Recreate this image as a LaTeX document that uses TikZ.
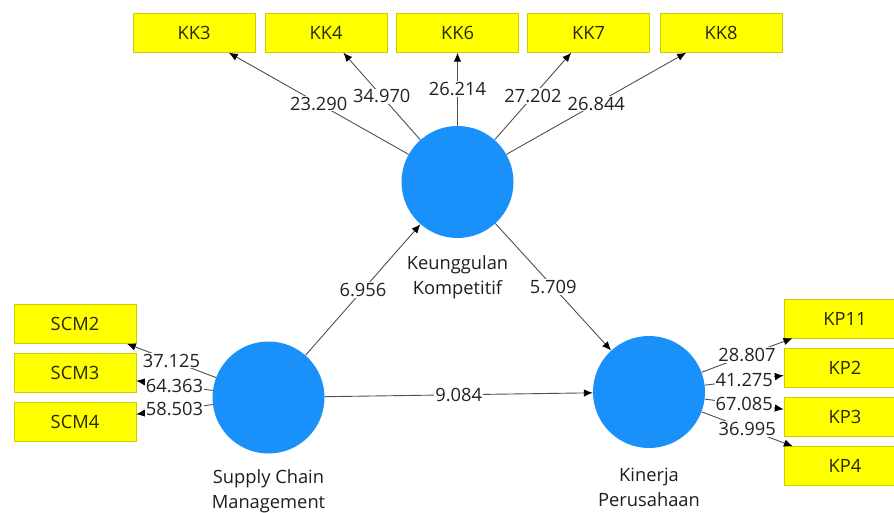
\documentclass[tikz,border=0pt]{standalone}
\usepackage{fontspec}
\setmainfont{Open Sans}
\usetikzlibrary{arrows.meta}

\begin{document}
\begin{tikzpicture}[x=1pt,y=-1pt,
  font=\fontsize{18.3}{25}\selectfont,
  latent/.style={circle, fill={rgb,255:red,25; green,144; blue,250}, minimum size=112pt, inner sep=0pt},
  indik/.style={draw={rgb,255:red,205; green,205; blue,0}, fill={rgb,255:red,255; green,255; blue,0},
    minimum width=122pt, minimum height=39pt, inner sep=0pt, text={rgb,255:red,40; green,40; blue,10}},
  panah/.style={draw={rgb,255:red,80; green,80; blue,80}, line width=0.9pt,
    -{Latex[length=9pt,width=7.5pt,color=black]}},
  nilai/.style={fill=white, inner sep=1pt, text={rgb,255:red,35; green,35; blue,35}},
  nama/.style={align=center, text={rgb,255:red,30; green,30; blue,30}}
  ]
\clip (0,0) rectangle (894,513);
\fill[white] (0,0) rectangle (894,513);
%konstruk
\node[latent] (KKomp) at (457.5,182) {};
\node[latent] (SCM) at (268.5,397.5) {};
\node[latent] (KPer) at (649,392) {};
\node[nama] (nKKomp) at (457.5,277) {Keunggulan\\Kompetitif};
\node[nama] (nSCM) at (268.5,491) {Supply Chain\\Management};
\node[nama] (nKPer) at (649,487) {Kinerja\\Perusahaan};
%indikator
\node[indik] (KK3) at (194,33) {KK3};
\node[indik] (KK4) at (326,33) {KK4};
\node[indik] (KK6) at (457.5,33) {KK6};
\node[indik] (KK7) at (588.5,33) {KK7};
\node[indik] (KK8) at (721,33) {KK8};
\node[indik] (SCM2) at (75,324) {SCM2};
\node[indik] (SCM3) at (75,373) {SCM3};
\node[indik] (SCM4) at (75,422) {SCM4};
\node[indik] (KP11) at (845,318.5) {KP11};
\node[indik] (KP2) at (845,368) {KP2};
\node[indik] (KP3) at (845,417) {KP3};
\node[indik] (KP4) at (845,466) {KP4};
%panah
\draw[panah] (KKomp) -- node[nilai] {23.290} (KK3);
\draw[panah] (KKomp) -- node[nilai] {34.970} (KK4);
\draw[panah] (KKomp) -- node[nilai] {26.214} (KK6);
\draw[panah] (KKomp) -- node[nilai] {27.202} (KK7);
\draw[panah] (KKomp) -- node[nilai] {26.844} (KK8);
\draw[panah] (SCM) -- node[nilai] {37.125} (SCM2);
\draw[panah] (SCM) -- node[nilai] {64.363} (SCM3);
\draw[panah] (SCM) -- node[nilai] {58.503} (SCM4);
\draw[panah] (KPer) -- node[nilai] {28.807} (KP11);
\draw[panah] (KPer) -- node[nilai] {41.275} (KP2);
\draw[panah] (KPer) -- node[nilai] {67.085} (KP3);
\draw[panah] (KPer) -- node[nilai] {36.995} (KP4);
\draw[panah] (SCM) -- node[nilai] {6.956} (KKomp);
\draw[panah] (KKomp) -- node[nilai] {5.709} (KPer);
\draw[panah] (SCM) -- node[nilai] {9.084} (KPer);
\end{tikzpicture}
\end{document}
